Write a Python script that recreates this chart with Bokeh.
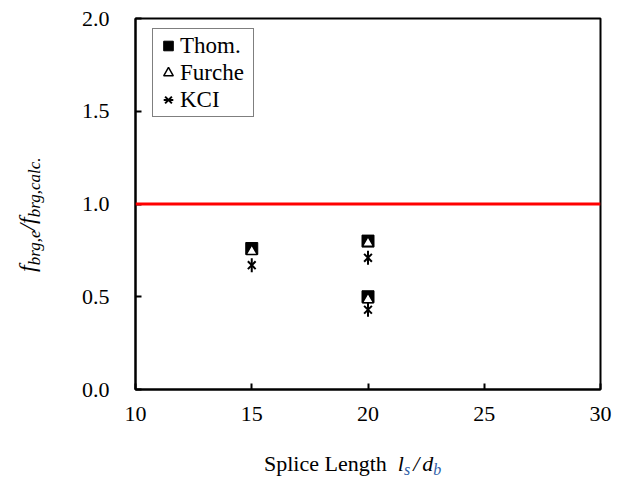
import math
from bokeh.plotting import figure
from bokeh.models import (Span, Legend, LegendItem, Range1d, Div,
                          NumeralTickFormatter)
from bokeh.layouts import column, row
from bokeh.embed import file_html
from bokeh.resources import INLINE

# ---- data ----
splice_length = [15, 20, 20]
thom = [0.76, 0.80, 0.50]
furche = [0.745, 0.79, 0.485]
kci = [0.67, 0.71, 0.43]
x_ticks = [10, 15, 20, 25, 30]
y_ticks = [0.0, 0.5, 1.0, 1.5, 2.0]
ref_ratio = 1.0

SERIF = "Liberation Serif"
BLUE = "#2e5ea8"

p = figure(width=552, height=445, x_range=Range1d(10, 30), y_range=Range1d(0, 2),
           output_backend="svg", toolbar_location=None,
           min_border_left=65, min_border_right=22, min_border_top=18,
           min_border_bottom=56, margin=0)
p.grid.visible = False
p.outline_line_color = "black"
p.outline_line_width = 2
p.background_fill_color = "white"
p.border_fill_color = "white"

for ax in (p.xaxis, p.yaxis):
    ax.axis_line_width = 2
    ax.axis_line_color = "black"
    ax.major_tick_in = 6
    ax.major_tick_out = 0
    ax.major_tick_line_width = 2
    ax.minor_tick_line_color = None
    ax.major_label_text_font = SERIF
    ax.major_label_text_font_size = "22px"
    ax.major_label_text_color = "black"

p.xaxis.ticker = x_ticks
p.yaxis.ticker = y_ticks
p.yaxis.formatter = NumeralTickFormatter(format="0.0")
p.yaxis.major_label_standoff = 26
p.xaxis.major_label_standoff = 17

p.add_layout(Span(location=ref_ratio, dimension="width", line_color="#ff0000",
                  line_width=3))

r_thom = p.scatter(splice_length, thom, marker="square", size=12,
                   fill_color="black", line_color="black")
r_fur = p.scatter(splice_length, furche, marker="triangle", size=11,
                  fill_color="white", line_color="black", line_width=1.5)
r_kci_x = p.scatter(splice_length, kci, marker="x", size=11,
                    line_color="black", line_width=2)
r_kci_v = p.scatter(splice_length, kci, marker="dash", size=14, angle=math.pi / 2,
                    line_color="black", line_width=2)

legend = Legend(items=[LegendItem(label="Thom.", renderers=[r_thom]),
                       LegendItem(label="Furche", renderers=[r_fur]),
                       LegendItem(label="KCI", renderers=[r_kci_x, r_kci_v])],
                location=(17, 272), orientation="vertical",
                border_line_color="black", border_line_width=1.5,
                background_fill_color="white", background_fill_alpha=1,
                label_text_font=SERIF, label_text_font_size="23px",
                label_text_color="black",
                glyph_width=24, glyph_height=27, label_height=27,
                label_width=70, label_standoff=-2, padding=3, spacing=0,
                margin=0)
p.add_layout(legend)

SUB = "font-size:16px; vertical-align:-4px; line-height:0; font-style:italic;"
xlabel_html = (
    "<div style=\"margin-left:264px; margin-top:8px; font-family:'Liberation Serif';"
    " font-size:22px; line-height:22px; color:black; white-space:nowrap;\">"
    "Splice Length<i style=\"margin-left:11px\">l</i>"
    f"<span style=\"{SUB} color:{BLUE}\">s</span>"
    "<i style=\"margin-left:3px\">/</i><i style=\"margin-left:3px\">d</i>"
    f"<span style=\"{SUB} color:{BLUE}\">b</span>"
    "</div>"
)
ylabel_html = (
    "<div style=\"width:200px; white-space:nowrap; font-family:'Liberation Serif';"
    " font-size:24px; line-height:24px; font-style:italic; color:black;"
    " transform-origin:0 0; transform:translate(15px,272px) rotate(-90deg);\">"
    "f<span style=\"font-size:17px; vertical-align:-5px; line-height:0\">brg,e</span>"
    "/f<span style=\"font-size:17px; vertical-align:-5px; line-height:0\">brg,calc.</span>"
    "</div>"
)

ydiv = Div(text=ylabel_html, width=70, height=445, margin=0)
xdiv = Div(text=xlabel_html, width=622, height=34, margin=0)

layout = column(row(ydiv, p, spacing=0), xdiv, spacing=0)

open("out.html", "w").write(file_html(layout, INLINE))
